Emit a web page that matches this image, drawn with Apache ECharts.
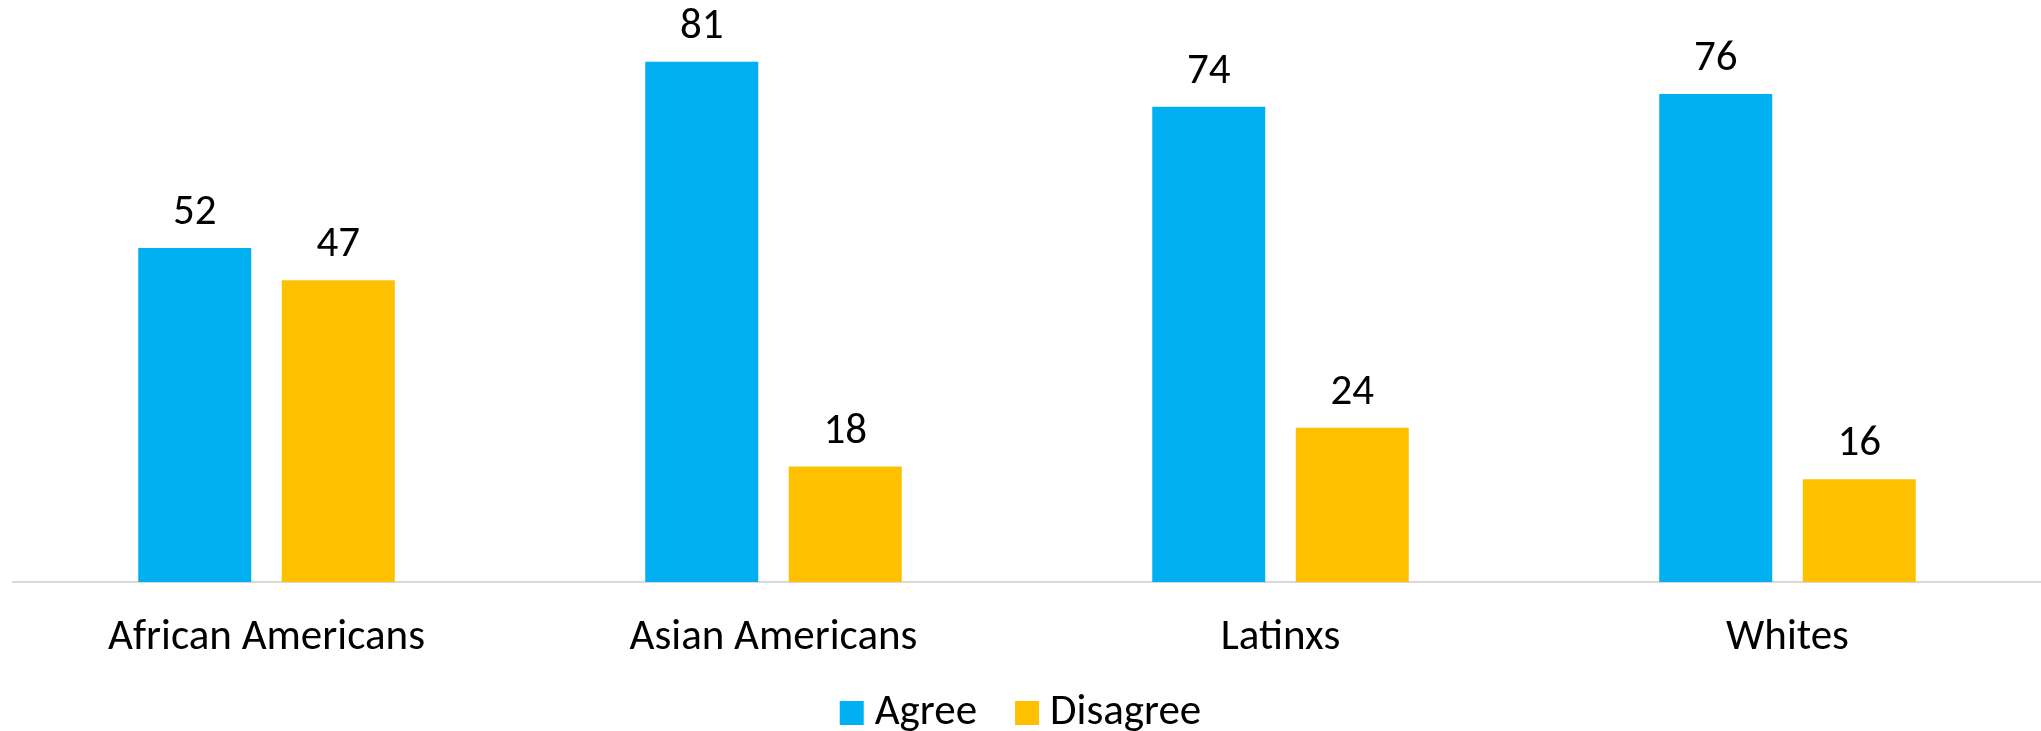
<!DOCTYPE html>
<html>
<head>
<meta charset="utf-8">
<script src="https://cdn.jsdelivr.net/npm/echarts@6/dist/echarts.min.js"></script>
<style>
html,body{margin:0;padding:0;background:#fff;}
#chart{width:2041px;height:731px;}
</style>
</head>
<body>
<div id="chart"></div>
<script>
const categories = ['African Americans', 'Asian Americans', 'Latinxs', 'Whites'];
const agree = [52, 81, 74, 76];
const disagree = [47, 18, 24, 16];
const seriesNames = ['Agree', 'Disagree'];

const FONT = "Carlito, Calibri, 'Liberation Sans Narrow', sans-serif";
const chart = echarts.init(document.getElementById('chart'), null, {renderer: 'canvas'});
chart.setOption({
  animation: false,
  backgroundColor: '#ffffff',
  textStyle: {fontFamily: FONT},
  grid: {left: 13, right: 0, top: 4, bottom: 149, containLabel: false},
  legend: {
    data: seriesNames,
    top: 683,
    left: 'center',
    itemWidth: 24,
    itemHeight: 24,
    itemGap: 38,
    icon: 'rect',
    textStyle: {fontFamily: FONT, fontSize: 43, lineHeight: 50, color: '#000', padding: [0, 0, 0, 6]}
  },
  xAxis: {
    type: 'category',
    data: categories,
    axisLine: {show: true, lineStyle: {color: '#D9D9D9', width: 2}},
    axisTick: {show: false},
    axisLabel: {fontFamily: FONT, fontSize: 43, color: '#000', margin: 35}
  },
  yAxis: {
    type: 'value',
    min: 0,
    max: 90,
    show: false,
    splitLine: {show: false}
  },
  series: [
    {
      name: 'Agree',
      type: 'bar',
      data: agree,
      barWidth: 113,
      barGap: '27%',
      itemStyle: {color: '#00B0F0'},
      label: {show: true, position: 'top', distance: 13, fontFamily: FONT, fontSize: 43, color: '#000'}
    },
    {
      name: 'Disagree',
      type: 'bar',
      data: disagree,
      barWidth: 113,
      itemStyle: {color: '#FFC000'},
      label: {show: true, position: 'top', distance: 13, fontFamily: FONT, fontSize: 43, color: '#000'}
    }
  ]
});
</script>
</body>
</html>
